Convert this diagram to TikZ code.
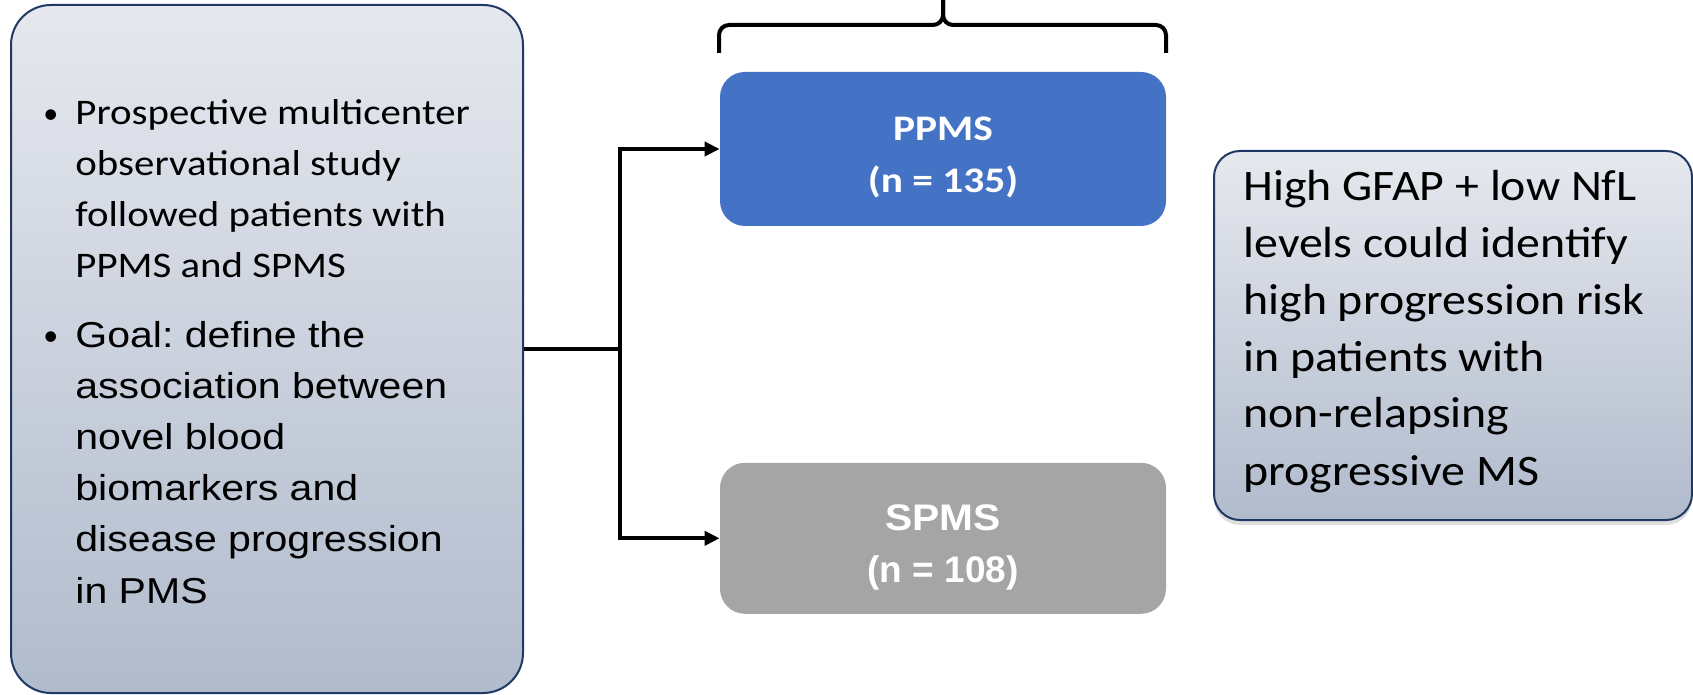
\documentclass[tikz,border=0pt]{standalone}
\usepackage{fontspec}
\setmainfont{Carlito}
\newfontfamily\studyfont[FakeStretch=1.135]{Carlito}
\newfontfamily\goalfont[FakeStretch=1.14]{Liberation Sans}
\newfontfamily\findfont[FakeStretch=1.10]{Carlito}
\newfontfamily\ppmsfont[FakeStretch=1.15]{Carlito}
\newfontfamily\spmsfont[FakeStretch=1.10]{Liberation Sans}
\newfontfamily\countfont{Liberation Sans}
\usetikzlibrary{arrows.meta,positioning,shadows}
\frenchspacing

\definecolor{boxtop}{HTML}{E6E8EE}
\definecolor{boxbottom}{HTML}{B0BBCC}
\definecolor{boxline}{HTML}{1F3864}
\definecolor{ppmsblue}{HTML}{4472C4}
\definecolor{spmsgray}{HTML}{A5A5A5}

\begin{document}
\begin{tikzpicture}[x=0.5pt, y=-0.5pt, node distance=118pt and 24pt,
  infobox/.style={draw=boxline, line width=1pt, top color=boxtop, bottom color=boxbottom},
  groupbox/.style={rounded corners=12.5pt, minimum width=223pt, text=white, align=center},
  itemtext/.style={inner sep=0pt, align=left, anchor=base west},
  link/.style={line width=2pt},
  bracebar/.style={line width=2pt, rounded corners=5pt}]
  \useasboundingbox (0,0) rectangle (1693,695);

  % study description (text nodes sit on their last baseline)
  \node[infobox, rounded corners=20pt, minimum width=256pt, minimum height=344pt] (study) at (267,349) {};
  \node[itemtext, font=\fontsize{15}{20}\selectfont] (dotA) at (43,124) {\textbullet};
  \node[itemtext, font=\studyfont\fontsize{18}{25.5}\selectfont] (itemA) at (75,278) {Prospective multicenter\\observational study\\followed patients with\\PPMS and SPMS};
  \node[itemtext, font=\fontsize{15}{20}\selectfont] (dotB) at (43,346) {\textbullet};
  \node[itemtext, font=\goalfont\fontsize{18}{25.6}\selectfont] (itemB) at (75,603) {Goal: define the\\association between\\novel blood\\biomarkers and\\disease progression\\in PMS};

  % the two groups
  \node[groupbox, fill=ppmsblue, minimum height=77pt, font=\ppmsfont\bfseries\fontsize{18}{26}\selectfont] (ppms) at (943,149) {\rule{0pt}{20pt}PPMS\\(n = 135)};
  \node[groupbox, fill=spmsgray, minimum height=75.5pt, below=118pt of ppms, font=\bfseries\fontsize{18.5}{26}\selectfont] (spms) {\rule{0pt}{22pt}{\spmsfont SPMS}\\{\countfont (n = 108)}};

  \draw[bracebar] (719,53) -- (719,25) -- (943,25) -- (943,0);
  \draw[bracebar] (1166,53) -- (1166,25) -- (943,25) -- (943,0);

  \coordinate (split) at (620,349);
  \draw[link] (study.east) -- (split);
  \draw[link, -{Triangle[length=7.5pt, width=7pt]}] (split) |- (ppms.west);
  \draw[link, -{Triangle[length=7.5pt, width=7pt]}] (split) |- (spms.west);

  % conclusion
  \node[infobox, rounded corners=13pt, minimum width=239pt, minimum height=184.5pt,
    drop shadow={opacity=0.25, shadow xshift=0pt, shadow yshift=-2.5pt}] (finding) at (1453,335.5) {};
  \node[itemtext, font=\findfont\fontsize{21.75}{28.5}\selectfont] (findtext) at (1243,485) {High GFAP + low NfL\\levels could identify\\high progression risk\\in patients with\\non-relapsing\\progressive MS};
\end{tikzpicture}
\end{document}
